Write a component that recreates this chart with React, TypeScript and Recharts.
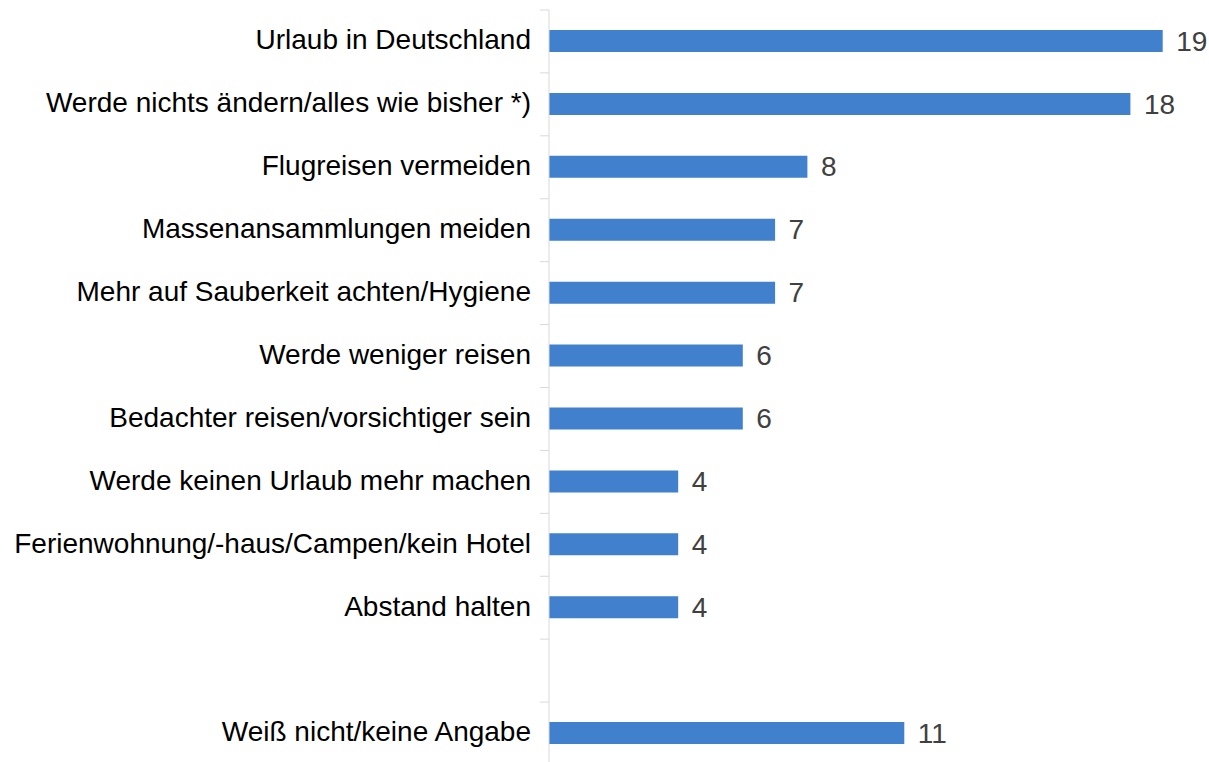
import React from "react";
import { BarChart, Bar, XAxis, YAxis, LabelList } from "recharts";

const categories: string[] = [
  "Urlaub in Deutschland",
  "Werde nichts ändern/alles wie bisher *)",
  "Flugreisen vermeiden",
  "Massenansammlungen meiden",
  "Mehr auf Sauberkeit achten/Hygiene",
  "Werde weniger reisen",
  "Bedachter reisen/vorsichtiger sein",
  "Werde keinen Urlaub mehr machen",
  "Ferienwohnung/-haus/Campen/kein Hotel",
  "Abstand halten",
  "",
  "Weiß nicht/keine Angabe",
];

const values: (number | null)[] = [19, 18, 8, 7, 7, 6, 6, 4, 4, 4, null, 11];

const xTicks: number[] = [0, 20];

const data = categories.map((name, i) => ({ name, value: values[i] }));

const CHART_W = 1209;
const CHART_H = 765;
const MARGIN = { top: 10, right: 14, bottom: 0, left: 0 };
const AXIS_W = 549;
const BAND = (CHART_H - MARGIN.top - MARGIN.bottom) / categories.length;
const FONT = "'Liberation Sans', Arial, sans-serif";

const CategoryTick = (props: any) => {
  const { y, payload } = props;
  const axisX = AXIS_W;
  const top = y - BAND / 2;
  return (
    <g>
      <line x1={axisX - 9} x2={axisX} y1={top} y2={top} stroke="#d9d9d9" strokeWidth={1} />
      <text
        x={axisX - 18}
        y={y}
        dy={7.8}
        textAnchor="end"
        fontSize={28}
        fontFamily={FONT}
        fill="#000000"
      >
        {payload.value}
      </text>
    </g>
  );
};

const ValueLabel = (props: any) => {
  const { x, y, width, height, value } = props;
  if (value === null || value === undefined) return null;
  return (
    <text
      x={Number(x) + Number(width) + 13.5}
      y={Number(y) + Number(height) / 2}
      dy={9.6}
      textAnchor="start"
      fontSize={28}
      fontFamily={FONT}
      fill="#404040"
    >
      {value}
    </text>
  );
};

export default function App() {
  return (
    <div
      style={{
        position: "absolute",
        left: 0,
        top: 0,
        width: 1209,
        height: 762,
        overflow: "hidden",
        background: "#ffffff",
      }}
    >
      <BarChart
        width={CHART_W}
        height={CHART_H}
        data={data}
        layout="vertical"
        margin={MARGIN}
      >
        <XAxis type="number" domain={[0, 20]} ticks={xTicks} hide />
        <YAxis
          type="category"
          dataKey="name"
          width={AXIS_W}
          axisLine={{ stroke: "#d9d9d9", strokeWidth: 1 }}
          tickLine={false}
          tick={<CategoryTick />}
          interval={0}
        />
        <Bar dataKey="value" fill="#4080cc" barSize={22} isAnimationActive={false}>
          <LabelList dataKey="value" content={<ValueLabel />} />
        </Bar>
      </BarChart>
    </div>
  );
}
